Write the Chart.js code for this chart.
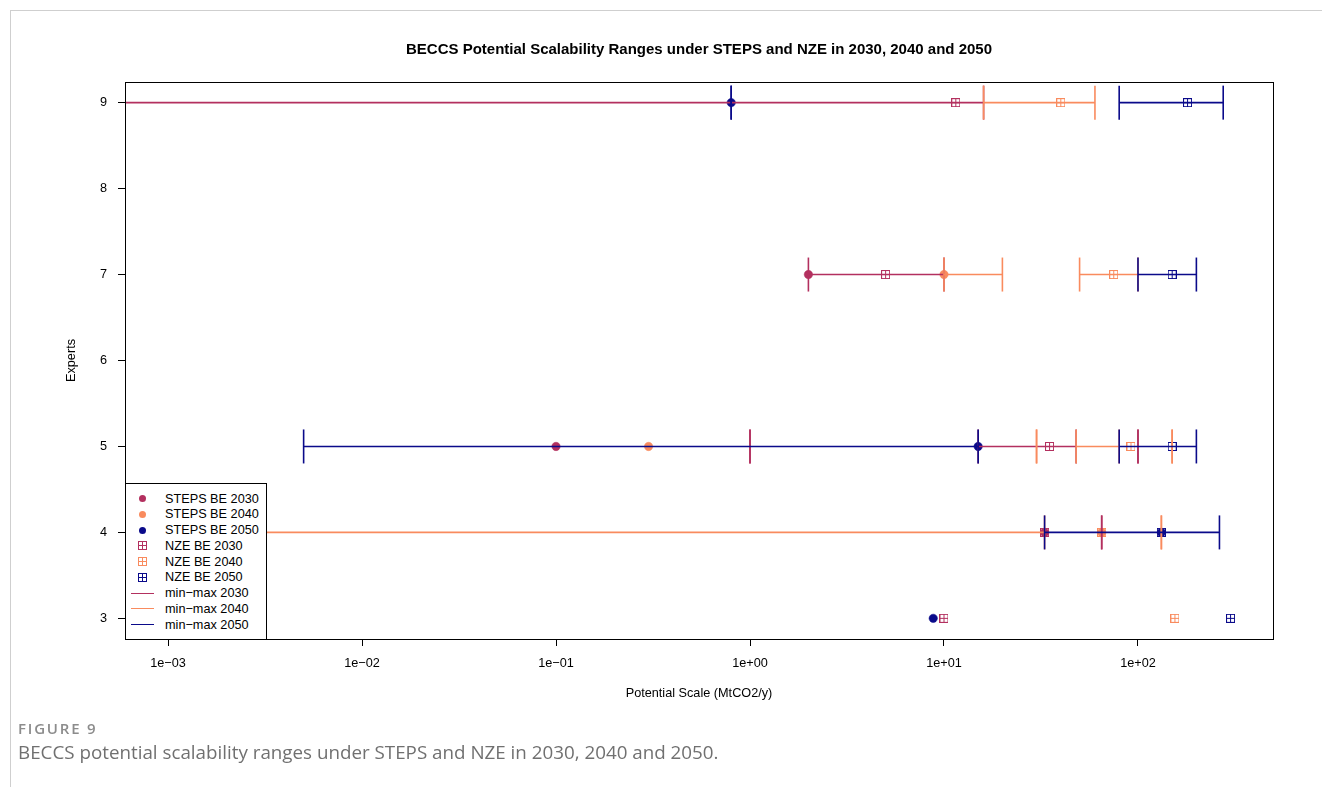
<!DOCTYPE html>
<html><head><meta charset="utf-8">
<script src="https://cdn.jsdelivr.net/npm/chart.js@4.4.1/dist/chart.umd.min.js"></script>
<style>
html,body{margin:0;padding:0;background:#fff;}
#wrap{position:relative;width:1322px;height:787px;overflow:hidden;background:#fff;}
#chartBox{position:absolute;left:0;top:0;width:1322px;height:787px;}
#frameTop{position:absolute;left:10px;top:10px;width:1312px;height:0;border-top:1px solid #cfcfcf;}
#frameLeft{position:absolute;left:10px;top:10px;width:0;height:777px;border-left:1px solid #cfcfcf;}
#title{position:absolute;left:125px;width:1148px;top:40px;text-align:center;font:bold 15px "Liberation Sans",Arial,sans-serif;color:#000;white-space:nowrap;}
#legend{position:absolute;left:125px;top:483px;width:140px;height:155px;border:1px solid #000;background:#fff;font:12.7px "Liberation Sans",Arial,sans-serif;color:#000;}
.lrow{position:absolute;left:0;height:16px;width:140px;}
.lsym{position:absolute;}
.ltxt{position:absolute;left:39px;top:0;line-height:16px;white-space:nowrap;}
#figLabel{position:absolute;left:18px;top:718px;font:600 15px "Open Sans",sans-serif;color:#8c8c8c;letter-spacing:1.8px;}
#caption{position:absolute;left:18px;top:739px;font:18.8px "Open Sans",sans-serif;color:#707070;white-space:nowrap;}
</style>
</head>
<body>
<div id="wrap">
  <div id="chartBox"><canvas id="c"></canvas></div>
  <div id="frameTop"></div>
  <div id="frameLeft"></div>
  <div id="title">BECCS Potential Scalability Ranges under STEPS and NZE in 2030, 2040 and 2050</div>
  <div id="legend"></div>
  <div id="figLabel">FIGURE 9</div>
  <div id="caption">BECCS potential scalability ranges under STEPS and NZE in 2030, 2040 and 2050.</div>
</div>
<script>
// ---------- data ----------
const expertTicks = [3, 4, 5, 6, 7, 8, 9];
const xTickValues = [1e-3, 1e-2, 1e-1, 1, 10, 100];
const xTickLabels = ["1e\u221203", "1e\u221202", "1e\u221201", "1e+00", "1e+01", "1e+02"];

// best estimates: [expert, value]
const stepsBE2030 = [[7, 2], [5, 0.1], [4, 33]];
const stepsBE2040 = [[7, 10], [5, 0.3], [4, 65]];
const stepsBE2050 = [[9, 0.8], [5, 15], [4, 132], [3, 8.8]];
const nzeBE2030 = [[9, 11.5], [7, 5], [5, 35], [4, 33], [3, 10]];
const nzeBE2040 = [[9, 40], [7, 75], [5, 92], [4, 65], [3, 155]];
const nzeBE2050 = [[9, 180], [7, 150], [5, 150], [4, 132], [3, 300]];

// min-max ranges: [expert, min, max]  (0.0001 = below the axis, runs off the left edge)
const range2030 = [[9, 0.0001, 16], [7, 2, 10], [5, 15, 48], [5, 1, 1], [5, 100, 100], [4, 65, 65]];
const range2040 = [[9, 16, 60], [7, 10, 20], [7, 50, 100], [5, 48, 80], [5, 30, 30], [5, 150, 150], [4, 0.0001, 33], [4, 132, 132]];
const range2050 = [[9, 0.8, 0.8], [9, 80, 275], [7, 100, 200], [5, 0.005, 15], [5, 80, 200], [4, 33, 263]];

const years = ["2030", "2040", "2050"];
const yearColors = ["#B3305F", "#F98B5E", "#0A0A8A"];

// ---------- build ----------
const font = "'Liberation Sans', Arial, Helvetica, sans-serif";
const fontSize = 12.7;

function plusSquare(color) {
  const s = 9;
  const cv = document.createElement('canvas');
  cv.width = s; cv.height = s;
  const g = cv.getContext('2d');
  g.strokeStyle = color; g.lineWidth = 1;
  g.strokeRect(0.5, 0.5, s - 1, s - 1);
  g.beginPath();
  g.moveTo(4.5, 0.5); g.lineTo(4.5, s - 0.5);
  g.moveTo(0.5, 4.5); g.lineTo(s - 0.5, 4.5);
  g.stroke();
  return cv;
}

const stepsSeries = [stepsBE2030, stepsBE2040, stepsBE2050];
const nzeSeries = [nzeBE2030, nzeBE2040, nzeBE2050];
const rangeSeries = [range2030, range2040, range2050];

const bottomToTop = [];
stepsSeries.forEach((arr, i) => {
  bottomToTop.push({
    label: "STEPS BE " + years[i],
    data: arr.map(([e, v]) => ({x: v, y: e})),
    showLine: false,
    pointStyle: 'circle',
    pointRadius: 4.2,
    pointBackgroundColor: yearColors[i],
    pointBorderColor: yearColors[i],
    pointBorderWidth: 0.5
  });
});
nzeSeries.forEach((arr, i) => {
  bottomToTop.push({
    label: "NZE BE " + years[i],
    data: arr.map(([e, v]) => ({x: v, y: e})),
    showLine: false,
    pointStyle: plusSquare(yearColors[i]),
    pointRadius: 4.5
  });
});
rangeSeries.forEach((arr, i) => {
  arr.forEach(([e, lo, hi]) => {
    bottomToTop.push({
      label: "min-max " + years[i],
      data: [{x: lo, y: e}, {x: hi, y: e}],
      showLine: true,
      borderColor: yearColors[i],
      borderWidth: 1.6,
      pointStyle: 'line',
      pointRotation: 90,
      pointRadius: 17,
      pointHoverRadius: 17,
      pointBorderColor: yearColors[i],
      pointBorderWidth: 1.6,
      tension: 0
    });
  });
});
bottomToTop.forEach((d, k) => { d.order = -k; });

const boxPlugin = {
  id: 'box',
  afterDraw(chart) {
    const {ctx, chartArea: a} = chart;
    ctx.save();
    ctx.strokeStyle = '#000';
    ctx.lineWidth = 1;
    ctx.strokeRect(Math.round(a.left) + 0.5, Math.round(a.top) + 0.5,
                   Math.round(a.right - a.left), Math.round(a.bottom - a.top));
    ctx.restore();
  }
};

new Chart(document.getElementById('c'), {
  type: 'scatter',
  data: {datasets: bottomToTop},
  options: {
    responsive: true,
    maintainAspectRatio: false,
    animation: false,
    events: [],
    layout: {padding: {top: 82, right: 49, left: 0, bottom: 86}},
    plugins: {legend: {display: false}, tooltip: {enabled: false}, title: {display: false}},
    scales: {
      x: {
        type: 'logarithmic',
        position: 'bottom',
        min: Math.pow(10, -3.219),
        max: Math.pow(10, 2.696),
        afterBuildTicks: s => { s.ticks = xTickValues.map(v => ({value: v})); },
        afterFit: s => { s.height = 62; },
        ticks: {
          callback: (v, i) => xTickLabels[i],
          autoSkip: false, maxRotation: 0, minRotation: 0,
          font: {family: font, size: fontSize}, color: '#000', padding: 10
        },
        grid: {drawOnChartArea: false, drawTicks: true, tickLength: 7, tickColor: '#000', tickWidth: 1},
        border: {display: true, color: '#000', width: 1},
        title: {display: true, text: 'Potential Scale (MtCO2/y)', color: '#000',
                font: {family: font, size: fontSize}, padding: {top: 0, bottom: 0}}
      },
      y: {
        type: 'linear',
        min: 2.76,
        max: 9.24,
        afterBuildTicks: s => { s.ticks = expertTicks.map(v => ({value: v})); },
        afterFit: s => { s.width = 125; },
        ticks: {font: {family: font, size: fontSize}, color: '#000', padding: 11},
        grid: {drawOnChartArea: false, drawTicks: true, tickLength: 7, tickColor: '#000', tickWidth: 1},
        border: {display: true, color: '#000', width: 1},
        title: {display: true, text: 'Experts', color: '#000',
                font: {family: font, size: fontSize}, padding: {top: 64, bottom: 0}}
      }
    }
  },
  plugins: [boxPlugin]
});

// ---------- legend (R style box) ----------
const legendItems = [];
years.forEach((y, i) => legendItems.push({type: 'dot', label: "STEPS BE " + y, color: yearColors[i]}));
years.forEach((y, i) => legendItems.push({type: 'sq', label: "NZE BE " + y, color: yearColors[i]}));
years.forEach((y, i) => legendItems.push({type: 'line', label: "min\u2212max " + y, color: yearColors[i]}));
const lg = document.getElementById('legend');
legendItems.forEach((it, k) => {
  const row = document.createElement('div');
  row.className = 'lrow';
  row.style.top = (6.5 + k * 15.75) + 'px';
  const sym = document.createElement('div');
  sym.className = 'lsym';
  if (it.type === 'dot') {
    Object.assign(sym.style, {left: '13px', top: '4.5px', width: '7px', height: '7px', borderRadius: '50%', background: it.color});
  } else if (it.type === 'sq') {
    const cv = plusSquare(it.color);
    cv.style.position = 'absolute'; cv.style.left = '12px'; cv.style.top = '3.5px';
    sym.appendChild(cv);
  } else {
    Object.assign(sym.style, {left: '5px', top: '7.5px', width: '23px', height: '0', borderTop: '1.5px solid ' + it.color});
  }
  row.appendChild(sym);
  const t = document.createElement('div');
  t.className = 'ltxt';
  t.textContent = it.label;
  row.appendChild(t);
  lg.appendChild(row);
});
</script>
</body></html>
